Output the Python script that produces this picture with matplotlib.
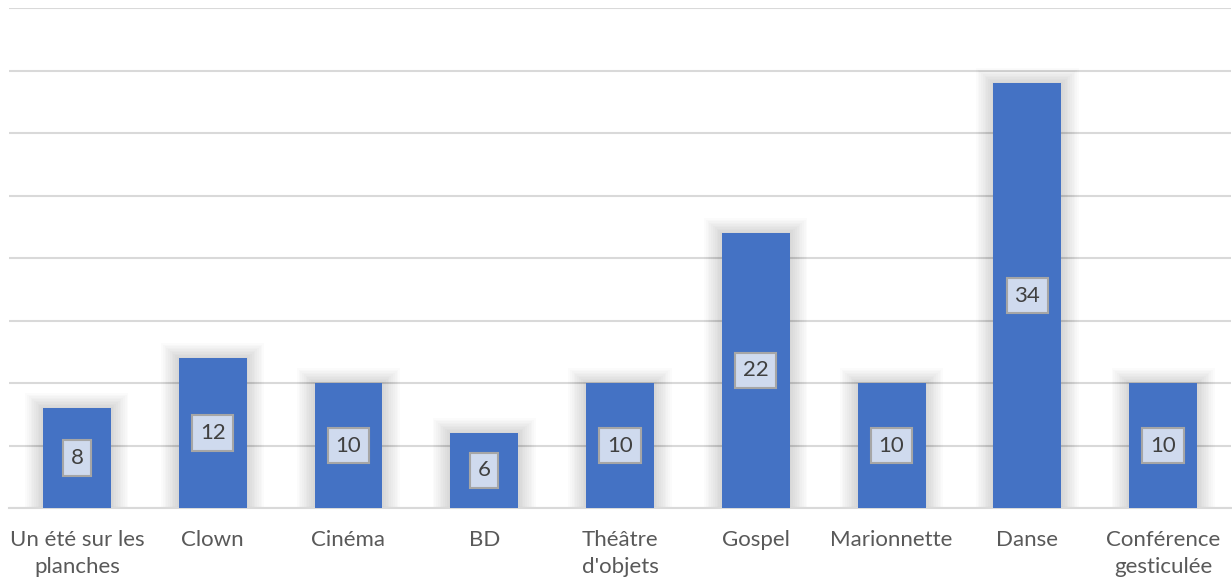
import numpy as np
import matplotlib.pyplot as plt
from matplotlib.patches import Rectangle

# Data
categories = ["Un été sur les\nplanches", "Clown", "Cinéma", "BD", "Théâtre\nd'objets",
              "Gospel", "Marionnette", "Danse", "Conférence\ngesticulée"]
values = [8, 12, 10, 6, 10, 22, 10, 34, 10]

plt.rcParams['font.family'] = ['Lato', 'DejaVu Sans']

fig = plt.figure(figsize=(12.32, 5.86), dpi=100)
ax = fig.add_axes([9 / 1232, 1 - 508 / 586, 1222 / 1232, 500 / 586])

x = np.arange(len(values))
width = 0.5

# soft glow behind bars
for i, v in zip(x, values):
    for k in range(10):
        grow = 0.013 * (k + 1)
        ax.add_patch(Rectangle((i - width / 2 - grow, 0), width + 2 * grow, v + grow * 9,
                               color='#000000', alpha=0.014, lw=0, zorder=1))

ax.bar(x, values, width=width, color='#4472C4', zorder=3)

for i, v in zip(x, values):
    ax.text(i, v / 2, str(v), ha='center', va='center', fontsize=16, color='#404040',
            zorder=4,
            bbox=dict(boxstyle='square,pad=0.35', fc='#CFDAEE', ec='#A6A6A6', lw=1.5))

ax.set_xlim(-0.5, len(values) - 0.5)
ax.set_ylim(0, 40)
ax.set_yticks(np.arange(0, 41, 5))
ax.yaxis.grid(True, color='#D9D9D9', lw=1.5, zorder=0)
ax.set_axisbelow(True)
ax.tick_params(axis='y', left=False, labelleft=False)
ax.tick_params(axis='x', length=0, pad=16)
ax.set_xticks(x)
ax.set_xticklabels(categories, fontsize=16, color='#595959', linespacing=1.45)
for s in ['top', 'right', 'left']:
    ax.spines[s].set_visible(False)
ax.spines['bottom'].set_color('#D9D9D9')
ax.spines['bottom'].set_linewidth(1.5)

fig.savefig('out.png', dpi=100)
